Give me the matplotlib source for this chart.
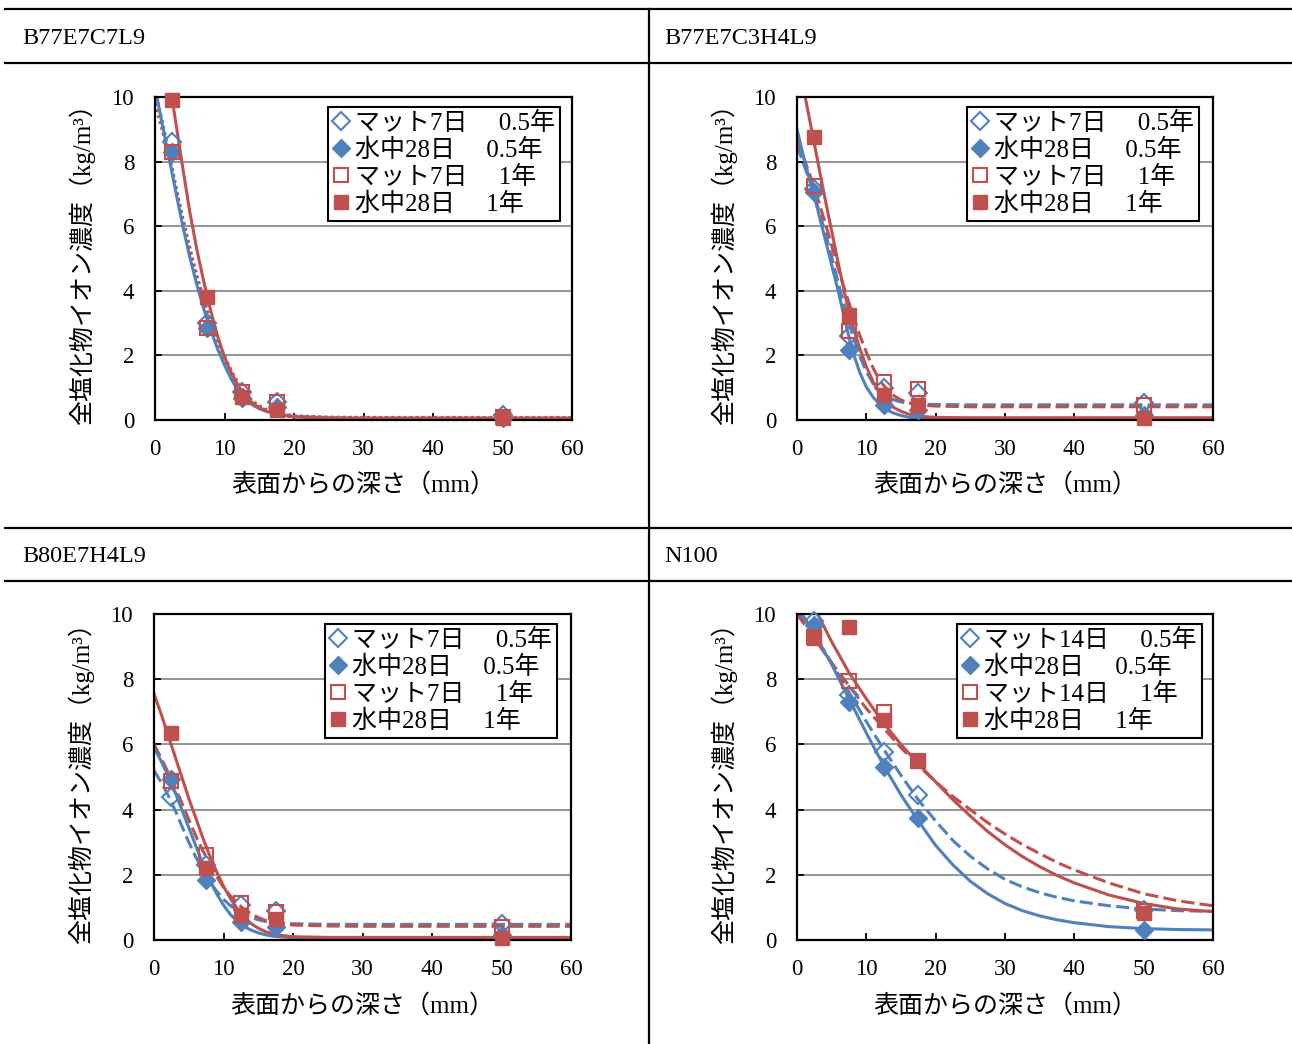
import matplotlib
matplotlib.use("Agg")
import matplotlib.pyplot as plt
from matplotlib.lines import Line2D

plt.rcParams['font.family'] = ['Liberation Serif', 'Noto Sans CJK JP']

W, H = 1292, 1044
BLUE = '#4F81BD'
RED = '#C0504D'

# ---------------- data ----------------
titles = ['B77E7C7L9', 'B77E7C3H4L9', 'B80E7H4L9', 'N100']
depth_pts = [2.5, 7.5, 12.5, 17.5, 50]

legend_labels_7 = ['マット7日　 0.5年', '水中28日　 0.5年', 'マット7日　 1年', '水中28日　 1年']
legend_labels_14 = ['マット14日　 0.5年', '水中28日　 0.5年', 'マット14日　 1年', '水中28日　 1年']

# measured points: [mat 0.5y, water 0.5y, mat 1y, water 1y]
p1_mat05 = [8.6, 3.0, 0.88, 0.57, 0.15]
p1_wat05 = [8.3, 2.85, 0.67, 0.40, 0.05]
p1_mat1 = [8.3, 2.85, 0.88, 0.57, 0.10]
p1_wat1 = [9.9, 3.8, 0.72, 0.31, 0.05]

p2_mat05 = [7.15, 2.6, 0.98, 0.83, 0.52]
p2_wat05 = [7.05, 2.17, 0.45, 0.30, 0.15]
p2_mat1 = [7.25, 2.77, 1.19, 0.95, 0.46]
p2_wat1 = [8.75, 3.25, 0.77, 0.46, 0.05]

p3_mat05 = [4.4, 2.3, 1.08, 0.90, 0.50]
p3_wat05 = [4.95, 1.85, 0.56, 0.41, 0.15]
p3_mat1 = [4.88, 2.6, 1.12, 0.87, 0.40]
p3_wat1 = [6.34, 2.2, 0.77, 0.65, 0.05]

p4_mat05 = [9.8, 7.52, 5.78, 4.45, 0.91]
p4_wat05 = [9.66, 7.31, 5.32, 3.75, 0.31]
p4_mat1 = [9.3, 7.94, 7.0, 5.5, 0.88]
p4_wat1 = [9.25, 9.61, 6.75, 5.49, 0.82]

# fitted curves
g1 = [0, 1, 2, 3, 4, 5, 6, 7, 8, 9, 10, 11, 12, 13, 14, 15, 16, 17, 18, 20, 25, 30, 40, 60]
c1_mat05 = [10.2, 9.3, 8.3, 7.25, 6.2, 5.25, 4.4, 3.65, 2.98, 2.38, 1.87, 1.4, 1.02, 0.74, 0.54, 0.4, 0.3, 0.23, 0.18, 0.12, 0.08, 0.07, 0.07, 0.07]
c1_wat05 = [10.3, 9.2, 8.15, 7.05, 6.0, 5.05, 4.2, 3.45, 2.8, 2.2, 1.7, 1.25, 0.9, 0.65, 0.47, 0.35, 0.27, 0.21, 0.16, 0.1, 0.06, 0.05, 0.05, 0.05]
c1_mat1 = [9.8, 9.0, 8.15, 7.2, 6.25, 5.35, 4.5, 3.75, 3.1, 2.5, 1.98, 1.52, 1.13, 0.83, 0.6, 0.44, 0.33, 0.25, 0.2, 0.13, 0.09, 0.08, 0.08, 0.08]
c1_wat1 = [13.5, 12.0, 10.6, 9.2, 7.8, 6.45, 5.3, 4.3, 3.4, 2.6, 1.95, 1.45, 1.05, 0.75, 0.53, 0.38, 0.28, 0.21, 0.16, 0.1, 0.06, 0.05, 0.05, 0.05]

c2_mat05 = [8.5, 7.9, 7.3, 6.6, 5.85, 5.05, 4.2, 3.4, 2.65, 2.0, 1.5, 1.12, 0.87, 0.72, 0.62, 0.56, 0.52, 0.5, 0.49, 0.48, 0.47, 0.47, 0.47, 0.47]
c2_wat05 = [9.0, 8.1, 7.3, 6.5, 5.65, 4.8, 3.95, 3.0, 2.15, 1.5, 1.02, 0.7, 0.47, 0.31, 0.21, 0.14, 0.09, 0.06, 0.05, 0.03, 0.02, 0.02, 0.02, 0.02]
c2_mat1 = [8.7, 8.1, 7.5, 6.85, 6.15, 5.4, 4.65, 3.95, 3.3, 2.65, 2.1, 1.6, 1.2, 0.95, 0.75, 0.62, 0.54, 0.49, 0.46, 0.43, 0.41, 0.41, 0.41, 0.41]
c2_wat1 = [11.5, 10.2, 9.1, 8.0, 6.9, 5.85, 4.8, 3.8, 2.95, 2.25, 1.65, 1.18, 0.82, 0.56, 0.38, 0.27, 0.19, 0.14, 0.11, 0.08, 0.07, 0.07, 0.07, 0.07]

c3_mat05 = [5.2, 4.85, 4.45, 4.0, 3.5, 3.0, 2.55, 2.15, 1.8, 1.5, 1.25, 1.05, 0.9, 0.78, 0.69, 0.62, 0.57, 0.54, 0.52, 0.5, 0.48, 0.48, 0.48, 0.48]
c3_wat05 = [5.9, 5.5, 5.05, 4.55, 4.0, 3.45, 2.9, 2.35, 1.85, 1.42, 1.07, 0.78, 0.57, 0.41, 0.3, 0.22, 0.16, 0.12, 0.1, 0.07, 0.05, 0.05, 0.05, 0.05]
c3_mat1 = [6.0, 5.6, 5.15, 4.7, 4.2, 3.7, 3.2, 2.75, 2.35, 1.95, 1.62, 1.35, 1.12, 0.94, 0.8, 0.69, 0.6, 0.54, 0.5, 0.46, 0.43, 0.42, 0.42, 0.42]
c3_wat1 = [7.55, 6.95, 6.3, 5.65, 5.0, 4.35, 3.75, 3.15, 2.6, 2.1, 1.65, 1.27, 0.95, 0.7, 0.5, 0.36, 0.26, 0.2, 0.15, 0.1, 0.08, 0.08, 0.08, 0.08]

g4 = [0, 2.5, 5, 7.5, 10, 12.5, 15, 17.5, 20, 22.5, 25, 27.5, 30, 32.5, 35, 37.5, 40, 45, 50, 55, 60]
c4_mat05 = [10.1, 9.35, 8.5, 7.6, 6.7, 5.85, 5.05, 4.3, 3.65, 3.05, 2.57, 2.18, 1.86, 1.63, 1.45, 1.31, 1.2, 1.05, 0.95, 0.9, 0.88]
c4_wat05 = [10.25, 9.4, 8.45, 7.4, 6.35, 5.35, 4.45, 3.65, 2.9, 2.3, 1.8, 1.42, 1.12, 0.9, 0.74, 0.62, 0.53, 0.41, 0.35, 0.32, 0.31]
c4_mat1 = [10.0, 9.25, 8.5, 7.8, 7.1, 6.5, 5.9, 5.35, 4.85, 4.4, 4.0, 3.6, 3.25, 2.93, 2.65, 2.38, 2.15, 1.75, 1.42, 1.2, 1.05]
c4_wat1 = [11.3, 10.2, 9.15, 8.2, 7.4, 6.65, 6.0, 5.4, 4.85, 4.3, 3.8, 3.33, 2.92, 2.56, 2.25, 1.98, 1.75, 1.38, 1.12, 0.95, 0.87]

xticks = [0, 10, 20, 30, 40, 50, 60]
yticks = [0, 2, 4, 6, 8, 10]
xlabel = '表面からの深さ（mm）'
ylabel = '全塩化物イオン濃度（kg/m³）'

panels = [
    dict(title=titles[0], labels=legend_labels_7, pts=[p1_mat05, p1_wat05, p1_mat1, p1_wat1],
         grid=g1, curves=[c1_mat05, c1_wat05, c1_mat1, c1_wat1], matstyle=(0, (0.9, 1.1)),
         rect=(155, 97, 572, 420), leg=(560, 107), title_xy=(22, 38)),
    dict(title=titles[1], labels=legend_labels_7, pts=[p2_mat05, p2_wat05, p2_mat1, p2_wat1],
         grid=g1, curves=[c2_mat05, c2_wat05, c2_mat1, c2_wat1], matstyle=(0, (4.3, 1.7)),
         rect=(797, 97, 1213, 420), leg=(1199, 107), title_xy=(664, 38)),
    dict(title=titles[2], labels=legend_labels_7, pts=[p3_mat05, p3_wat05, p3_mat1, p3_wat1],
         grid=g1, curves=[c3_mat05, c3_wat05, c3_mat1, c3_wat1], matstyle=(0, (4.3, 1.7)),
         rect=(154, 614, 571, 940), leg=(557, 624), title_xy=(22, 556)),
    dict(title=titles[3], labels=legend_labels_14, pts=[p4_mat05, p4_wat05, p4_mat1, p4_wat1],
         grid=g4, curves=[c4_mat05, c4_wat05, c4_mat1, c4_wat1], matstyle=(0, (4.3, 1.7)),
         rect=(797, 614, 1213, 940), leg=(1202, 624), title_xy=(664, 556)),
]

fig = plt.figure(figsize=(W / 100, H / 100), dpi=100)

# table rules
for yy in [9, 63, 528, 581]:
    fig.add_artist(Line2D([5 / W, 1.0], [1 - yy / H, 1 - yy / H], color='black', lw=1.6,
                          transform=fig.transFigure))
fig.add_artist(Line2D([649 / W, 649 / W], [1 - 9 / H, 0.0], color='black', lw=1.6,
                      transform=fig.transFigure))

FS_TICK = 16.5
FS_LAB = 18
FS_LEG = 18
marker_specs = [
    dict(marker='D', ms=9, mfc='none', mec=BLUE, mew=1.5),
    dict(marker='D', ms=9, mfc=BLUE, mec=BLUE, mew=1.0),
    dict(marker='s', ms=10, mfc='none', mec=RED, mew=1.5),
    dict(marker='s', ms=10, mfc=RED, mec=RED, mew=1.0),
]

for p in panels:
    l, t, r, b = p['rect']
    ax = fig.add_axes([l / W, 1 - b / H, (r - l) / W, (b - t) / H])
    ax.set_xlim(0, 60)
    ax.set_ylim(0, 10)
    ax.set_xticks(xticks)
    ax.set_yticks(yticks)
    for yv in [2, 4, 6, 8]:
        ax.axhline(yv, color='#8C8C8C', lw=1.3, zorder=0.5)
    ax.tick_params(direction='in', length=5, width=1.3, labelsize=FS_TICK, color='black')
    ax.tick_params(axis='x', pad=14)
    ax.tick_params(axis='y', pad=15)
    for s in ax.spines.values():
        s.set_linewidth(1.6)
        s.set_color('black')
    ax.set_xlabel(xlabel, fontsize=FS_LAB)
    ax.set_ylabel(ylabel, fontsize=FS_LAB)
    ax.xaxis.set_label_coords(0.5, -0.2)
    ax.xaxis.label.set_va('center')
    ax.yaxis.set_label_coords(-0.175, 0.5)
    ax.yaxis.label.set_va('center')

    g = p['grid']
    cm05, cw05, cm1, cw1 = p['curves']
    ax.plot(g, cm05, color=BLUE, lw=2.2, linestyle=p['matstyle'], zorder=2)
    ax.plot(g, cm1, color=RED, lw=2.2, linestyle=p['matstyle'], zorder=2)
    ax.plot(g, cw05, color=BLUE, lw=2.2, zorder=2.1)
    ax.plot(g, cw1, color=RED, lw=2.2, zorder=2.1)

    handles = []
    for vals, spec, lab in zip(p['pts'], marker_specs, p['labels']):
        ax.plot(depth_pts, vals, ls='none', zorder=3, clip_on=False, **spec)
        handles.append(Line2D([], [], ls='none', **spec))

    lx, ly = p['leg']
    leg = ax.legend(handles, p['labels'], loc='upper right',
                    bbox_to_anchor=((lx - l) / (r - l), (b - ly) / (b - t)),
                    bbox_transform=ax.transAxes, borderaxespad=0, fancybox=False,
                    edgecolor='black', framealpha=1, fontsize=FS_LEG, handlelength=0.65,
                    handletextpad=0.25, labelspacing=0.15, borderpad=0.2)
    leg.get_frame().set_linewidth(1.5)
    leg.set_zorder(5)

    tx, ty = p['title_xy']
    fig.text(tx / W, 1 - ty / H, p['title'], fontsize=17.5, va='center', ha='left')

fig.savefig('out.png', dpi=100)
